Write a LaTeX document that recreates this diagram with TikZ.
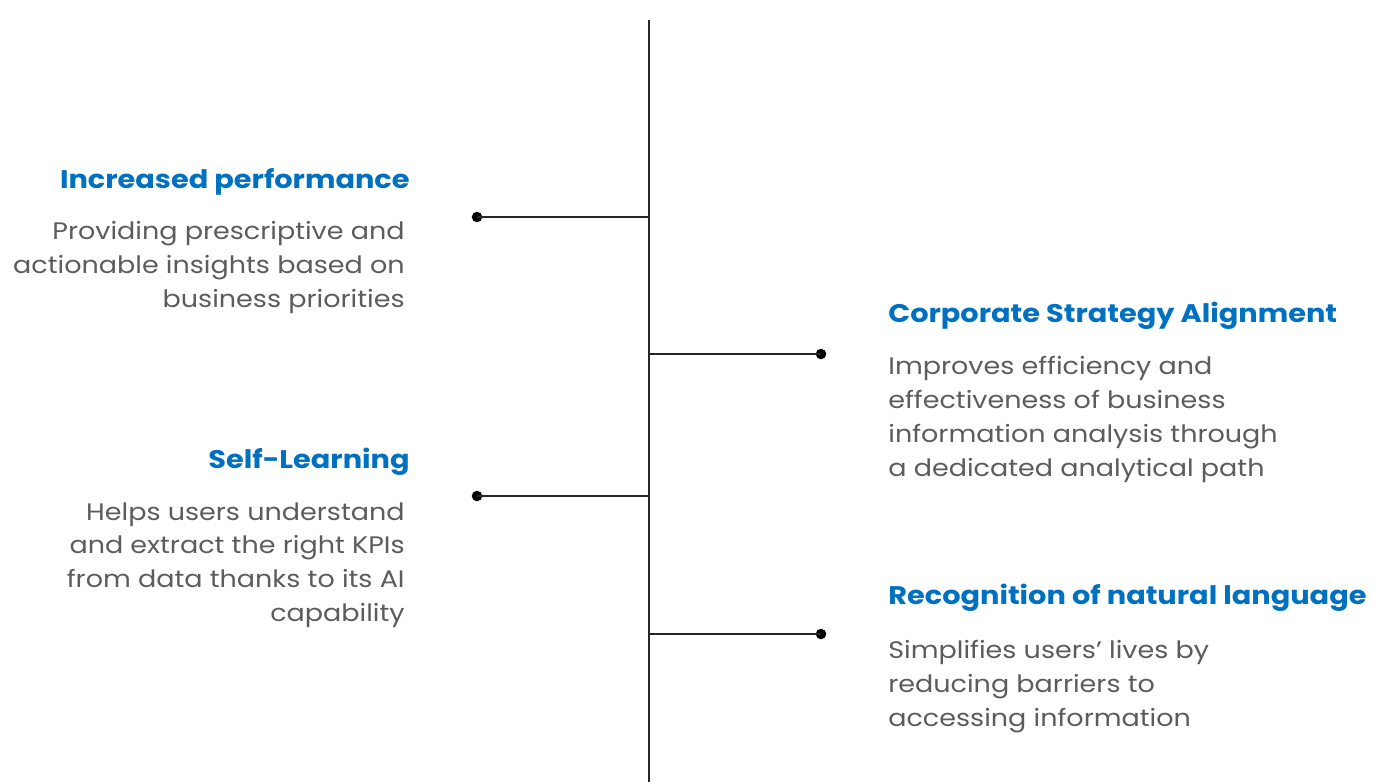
\documentclass[tikz,border=0pt]{standalone}
\usepackage{fontspec}
\setmainfont{Poppins}[FakeStretch=1.13]
\usepackage{tikz}
\definecolor{headblue}{RGB}{0,112,192}
\definecolor{bodygray}{RGB}{92,92,92}

\begin{document}
\begin{tikzpicture}[
  x=0.02cm, y=-0.02cm,
  head/.style={font=\fontsize{14.5}{17}\selectfont\bfseries, text=headblue, inner sep=0pt, anchor=base #1},
  body/.style={font=\fontsize{13.6}{19.3}\selectfont, text=bodygray, inner sep=0pt, align=#1},
  dot/.style={circle, fill=black, inner sep=0pt, minimum size=6pt},
  line/.style={line width=0.9pt, black!85}
]
\useasboundingbox (0,0) rectangle (1374,782);

% Spine
\coordinate (top) at (649,20);
\coordinate (bot) at (649,782);
\draw[line, line width=1.1pt] (top) -- (bot);

% Left side
\node[head=east] (perf) at (410,188) {Increased performance};
\node[body=right, anchor=north east] (perftxt) at (405,221) {Providing prescriptive and\\actionable insights based on\\business priorities};
\node[dot] (perfdot) at (477,217) {};
\coordinate (perfjoin) at (649,217);
\draw[line] (perfdot.center) -- (perfjoin);

\node[head=east] (selfl) at (410,468) {Self-Learning};
\node[body=right, anchor=north east] (selfltxt) at (405,502) {Helps users understand\\and extract the right KPIs\\from data thanks to its AI\\capability};
\node[dot] (selfldot) at (477,496) {};
\coordinate (selfljoin) at (649,496);
\draw[line] (selfldot.center) -- (selfljoin);

% Right side
\node[head=west] (corp) at (888,322) {Corporate Strategy Alignment};
\node[body=left, anchor=north west] (corptxt) at (888,356) {Improves efficiency and\\effectiveness of business\\information analysis through\\a dedicated analytical path};
\node[dot] (corpdot) at (821,354) {};
\coordinate (corpjoin) at (649,354);
\draw[line] (corpjoin) -- (corpdot.center);

\node[head=west] (nlp) at (888,604) {Recognition of natural language};
\node[body=left, anchor=north west] (nlptxt) at (888,640) {Simplifies users’ lives by\\reducing barriers to\\accessing information};
\node[dot] (nlpdot) at (821,634) {};
\coordinate (nlpjoin) at (649,634);
\draw[line] (nlpjoin) -- (nlpdot.center);

\end{tikzpicture}
\end{document}
